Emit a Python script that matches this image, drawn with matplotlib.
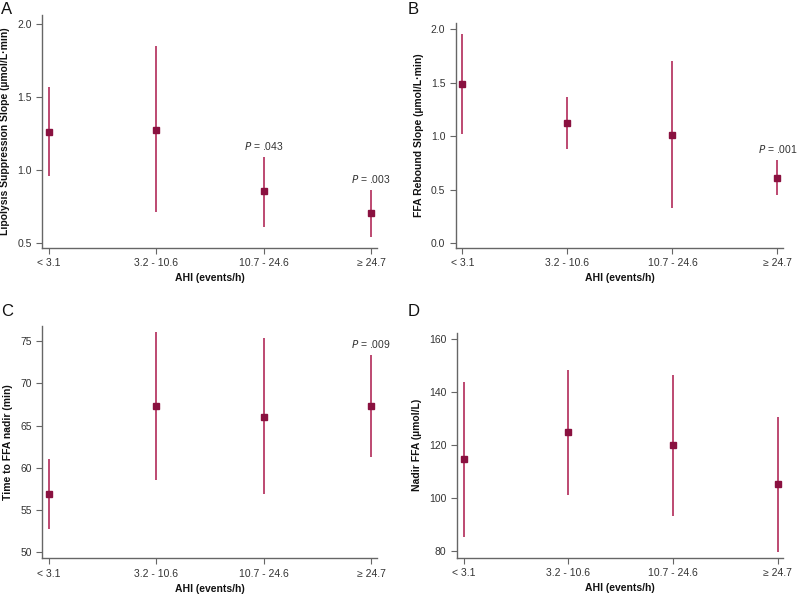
import matplotlib.pyplot as plt

plt.rcParams['font.family'] = ['Liberation Sans', 'DejaVu Sans']

groups = ['< 3.1', '3.2 - 10.6', '10.7 - 24.6', '\u2265 24.7']
xlabel = 'AHI (events/h)'

# panel A: lipolysis suppression slope
a_mean = [1.262, 1.274, 0.856, 0.703]
a_lo = [0.959, 0.708, 0.612, 0.543]
a_hi = [1.566, 1.845, 1.091, 0.863]
a_p = [None, None, 'P = .043', 'P = .003']

# panel B: FFA rebound slope
b_mean = [1.488, 1.123, 1.013, 0.614]
b_lo = [1.017, 0.879, 0.330, 0.455]
b_hi = [1.956, 1.363, 1.703, 0.776]
b_p = [None, None, None, 'P = .001']

# panel C: time to FFA nadir
c_mean = [56.9, 67.3, 66.0, 67.3]
c_lo = [52.8, 58.5, 56.9, 61.3]
c_hi = [61.0, 76.1, 75.3, 73.3]
c_p = [None, None, None, 'P = .009']

# panel D: nadir FFA
d_mean = [114.7, 124.8, 120.0, 105.2]
d_lo = [85.4, 101.0, 93.4, 79.6]
d_hi = [143.7, 148.3, 146.3, 130.7]
d_p = [None, None, None, None]

LINE = '#B83A66'
MARK = '#8A1140'
SPINE = '#666666'
TXT = '#333333'

fig = plt.figure(figsize=(7.99, 5.95), dpi=100)

# letter position in pixels (x, y from top)
panels = [
    ('A', (1, 9), [0.0526, 0.5832, 0.4193, 0.3916], a_mean, a_lo, a_hi, a_p,
     'Lipolysis Suppression Slope (\u00b5mol/L\u00b7min)', (0.465, 2.06), [0.5, 1.0, 1.5, 2.0], '%.1f'),
    ('B', (408, 10), [0.5703, 0.5832, 0.4100, 0.3777], b_mean, b_lo, b_hi, b_p,
     'FFA Rebound Slope (\u00b5mol/L\u00b7min)', (-0.045, 2.056), [0.0, 0.5, 1.0, 1.5, 2.0], '%.1f'),
    ('C', (1, 311), [0.0526, 0.0617, 0.4193, 0.3909], c_mean, c_lo, c_hi, c_p,
     'Time to FFA nadir (min)', (49.3, 76.8), [50, 55, 60, 65, 70, 75], '%d'),
    ('D', (408, 311), [0.5716, 0.0627, 0.4088, 0.3782], d_mean, d_lo, d_hi, d_p,
     'Nadir FFA (\u00b5mol/L)', (77.5, 162.4), [80, 100, 120, 140, 160], '%d'),
]

for letter, lpos, pos, mean, lo, hi, pvals, ylab, ylim, yt, fmt in panels:
    ax = fig.add_axes(pos)
    x = list(range(len(groups)))
    ax.vlines(x, lo, hi, color=LINE, lw=1.3)
    ax.plot(x, mean, 's', color=MARK, ms=4.6, mec=MARK, zorder=3)
    for xi, p, h in zip(x, pvals, hi):
        if p:
            ax.annotate(r'$\it{P}$' + p[1:], (xi, h), xytext=(0, 3.5), textcoords='offset points',
                        ha='center', va='bottom', fontsize=7.5, color=TXT, annotation_clip=False)
    ax.set_xlim(-0.065, 3.055)
    ax.set_ylim(*ylim)
    ax.set_xticks(x)
    ax.set_xticklabels(groups)
    ax.set_yticks(yt)
    ax.set_yticklabels([fmt % v for v in yt])
    ax.spines['top'].set_visible(False)
    ax.spines['right'].set_visible(False)
    for s in ('left', 'bottom'):
        ax.spines[s].set_color(SPINE)
        ax.spines[s].set_linewidth(1.0)
    ax.tick_params(colors=SPINE, labelcolor=TXT, labelsize=7.5, length=4, width=0.8)
    ax.set_xlabel(xlabel, fontsize=7.5, fontweight='bold', color='#111111', labelpad=3.5)
    ax.set_ylabel(ylab, fontsize=7.5, fontweight='bold', color='#111111', labelpad=5)
    fig.text(lpos[0] / 799, 1 - lpos[1] / 595, letter, fontsize=12, color='#111111',
             ha='left', va='center')

fig.savefig('out.png', dpi=100)
